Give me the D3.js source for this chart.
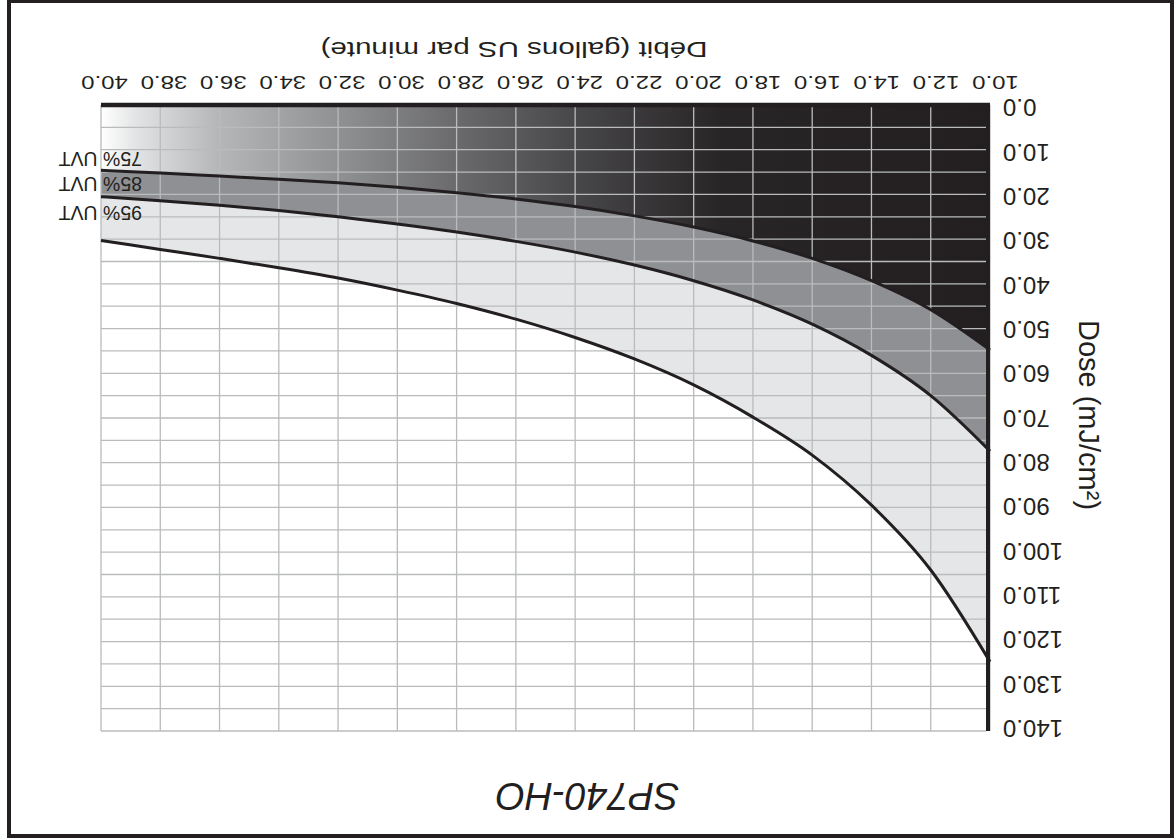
<!DOCTYPE html>
<html>
<head>
<meta charset="utf-8">
<script src="https://cdn.jsdelivr.net/npm/d3@7"></script>
<style>
  html, body { margin: 0; padding: 0; background: #ffffff; }
  svg { display: block; }
  text { font-family: "Liberation Sans", Arial, Helvetica, sans-serif; fill: #231f20; }
</style>
</head>
<body>
<svg id="chart" width="1176" height="840"></svg>
<script>
// ---- data ----
const flow = [10, 12, 14, 16, 18, 20, 22, 24, 26, 28, 30, 32, 34, 36, 38, 40];
const uvt75 = [54.8, 45.8, 39.3, 34.3, 30.4, 27.3, 24.8, 22.7, 21.0, 19.6, 18.4, 17.4, 16.6, 15.9, 15.2, 14.6];
const uvt85 = [77.4, 65.0, 56.0, 49.0, 43.6, 39.3, 35.8, 32.9, 30.5, 28.4, 26.6, 25.0, 23.6, 22.4, 21.4, 20.5];
const uvt95 = [124.5, 104.0, 89.5, 78.3, 69.8, 62.6, 56.8, 52.0, 47.9, 44.4, 41.4, 38.7, 36.4, 34.3, 32.3, 30.3];
const seriesNames = ["75% UVT", "85% UVT", "95% UVT"];
const xTickValues = [10, 12, 14, 16, 18, 20, 22, 24, 26, 28, 30, 32, 34, 36, 38, 40];
const yTickValues = [0, 10, 20, 30, 40, 50, 60, 70, 80, 90, 100, 110, 120, 130, 140];
const yGridValues = [0, 5, 10, 15, 20, 25, 30, 35, 40, 45, 50, 55, 60, 65, 70, 75, 80, 85, 90, 95, 100, 105, 110, 115, 120, 125, 130, 135, 140];
const chartTitle = "SP740-HO";
const xTitle = "Débit (gallons US par minute)";
const yTitle = "Dose (mJ/cm²)";

// ---- layout (drawn upright, then the whole picture is turned 180°) ----
const svg = d3.select("#chart");
const root = svg.append("g").attr("transform", "rotate(180 588 420)");

const x = d3.scaleLinear().domain([10, 40]).range([186, 1075]);
const y = d3.scaleLinear().domain([0, 140]).range([735, 109]);
const xLab = d3.scaleLinear().domain([10, 40]).range([180, 1071]);
const yLab = d3.scaleLinear().domain([0, 140]).range([731.7, 110.8]);

const rows = flow.map((f, i) => ({ f, a: uvt75[i], b: uvt85[i], c: uvt95[i] }));
const curve = d3.curveMonotoneX;

// frame
root.append("rect")
  .attr("x", 4).attr("y", 4).attr("width", 1163).attr("height", 835)
  .attr("fill", "none").attr("stroke", "#231f20").attr("stroke-width", 4);

// gradient
const defs = svg.append("defs");
const grad = defs.append("linearGradient").attr("id", "darkGrad")
  .attr("gradientUnits", "userSpaceOnUse")
  .attr("x1", x(10)).attr("x2", x(40)).attr("y1", 0).attr("y2", 0);
[[0, "#231f20"], [0.30, "#282526"], [0.46, "#464547"], [0.60, "#6a6a6c"],
 [0.73, "#8f9092"], [0.87, "#b6b7b9"], [0.96, "#e2e3e4"], [1, "#ffffff"]]
  .forEach(([o, c]) => grad.append("stop").attr("offset", o).attr("stop-color", c));

// bands
root.append("path").datum(rows)
  .attr("d", d3.area().curve(curve).x(d => x(d.f)).y0(y(0)).y1(d => y(d.a)))
  .attr("fill", "url(#darkGrad)");
root.append("path").datum(rows)
  .attr("d", d3.area().curve(curve).x(d => x(d.f)).y0(d => y(d.a)).y1(d => y(d.b)))
  .attr("fill", "#8f9093");
root.append("path").datum(rows)
  .attr("d", d3.area().curve(curve).x(d => x(d.f)).y0(d => y(d.b)).y1(d => y(d.c)))
  .attr("fill", "#e5e6e7");

// grid
const grid = root.append("g").attr("stroke", "#b9bbbd").attr("stroke-width", 1.3);
grid.selectAll("line.h").data(yGridValues).join("line").attr("class", "h")
  .attr("x1", x(10) + 4).attr("x2", x(40)).attr("y1", d => y(d)).attr("y2", d => y(d));
grid.selectAll("line.v").data(xTickValues).join("line").attr("class", "v")
  .attr("x1", d => x(d)).attr("x2", d => x(d)).attr("y1", y(0)).attr("y2", y(140));

// axis lines
root.append("line").attr("x1", x(10)).attr("x2", x(40)).attr("y1", y(0)).attr("y2", y(0))
  .attr("stroke", "#231f20").attr("stroke-width", 4.5);
root.append("line").attr("x1", x(10) + 2).attr("x2", x(10) + 2).attr("y1", y(0) + 2).attr("y2", y(140))
  .attr("stroke", "#231f20").attr("stroke-width", 4);

// curves
const keys = ["a", "b", "c"];
keys.forEach(k => {
  root.append("path").datum(rows)
    .attr("d", d3.line().curve(curve).x(d => x(d.f)).y(d => y(d[k])))
    .attr("fill", "none").attr("stroke", "#231f20").attr("stroke-width", 3);
});

// series labels
const labelBaselines = [688.3, 663.3, 634];
root.selectAll("text.series").data(seriesNames).join("text").attr("class", "series")
  .attr("x", 1034).attr("y", (d, i) => labelBaselines[i])
  .attr("font-size", 19.5).text(d => d);

// x axis tick labels
const xAxisG = root.append("g").attr("transform", "translate(0,764)")
  .call(d3.axisBottom(xLab).tickValues(xTickValues).tickFormat(d3.format(".1f")).tickSize(0));
xAxisG.select(".domain").remove();
xAxisG.selectAll("text").attr("y", 0).attr("dy", 0)
  .attr("transform", "scale(1,0.79)")
  .attr("font-size", 24).attr("fill", "#231f20")
  .style("font-family", "'Liberation Sans', Arial, sans-serif");

// y axis tick labels
const yAxisG = root.append("g").attr("transform", "translate(173,0)")
  .call(d3.axisLeft(yLab).tickValues(yTickValues).tickFormat(d3.format(".1f")).tickSize(0).tickPadding(0));
yAxisG.select(".domain").remove();
yAxisG.selectAll("text").attr("x", 0).attr("dy", "0.36em")
  .attr("font-size", 24).attr("fill", "#231f20")
  .style("font-family", "'Liberation Sans', Arial, sans-serif");

// axis titles
root.append("text")
  .attr("transform", "translate(662,798.3) scale(1,0.76)")
  .attr("text-anchor", "middle").attr("font-size", 29.5).text(xTitle);
root.append("text")
  .attr("transform", "translate(97,425) rotate(-90)")
  .attr("text-anchor", "middle").attr("font-size", 29).text(yTitle);

// chart title
root.append("text")
  .attr("x", 588.5).attr("y", 57)
  .attr("text-anchor", "middle").attr("font-size", 38).attr("font-style", "italic")
  .text(chartTitle);
</script>
</body>
</html>
